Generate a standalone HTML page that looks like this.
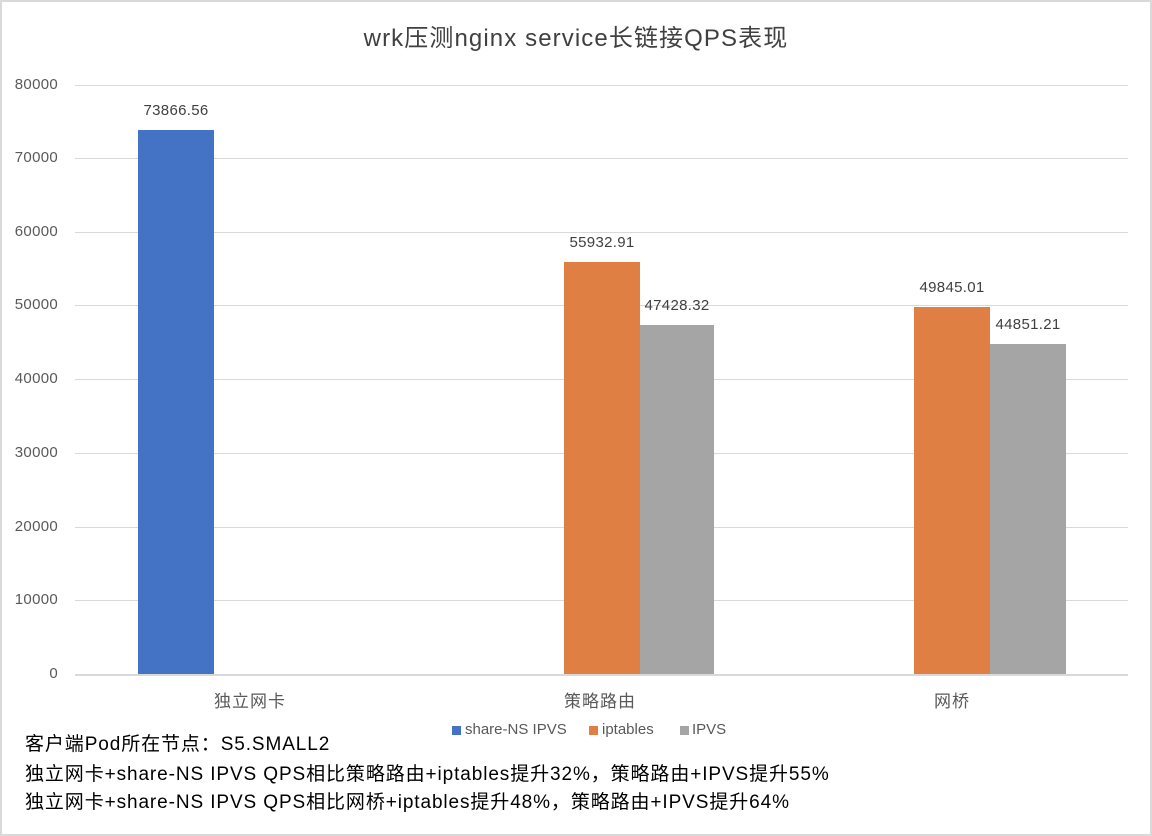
<!DOCTYPE html>
<html><head><meta charset="utf-8"><style>
body{margin:0;background:#fff;}
#c{position:relative;width:1152px;height:836px;overflow:hidden;font-family:"Liberation Sans","Noto Sans CJK SC",sans-serif;background:#fff;}
.b{position:absolute;box-sizing:border-box;}
.t{position:absolute;white-space:nowrap;color:#404040;}
.g{position:absolute;left:75px;width:1053px;height:1px;background:#d9d9d9;}
.yl{position:absolute;width:58px;text-align:right;left:0;font-size:15px;color:#595959;letter-spacing:0.3px;}
.dl{position:absolute;font-size:15px;color:#404040;width:120px;text-align:center;letter-spacing:0.3px;}
.cl{position:absolute;font-size:17px;color:#595959;width:200px;text-align:center;letter-spacing:1px;}
.n{position:absolute;left:25px;font-size:19px;color:#000;white-space:nowrap;letter-spacing:0.9px;}
</style></head><body><div id="c">
<div class="b" style="left:0;top:0;width:1152px;height:836px;border:2px solid #d9d9d9;"></div>
<div class="t" style="left:0;width:1152px;text-align:center;top:18px;font-size:24px;color:#404040;letter-spacing:1.1px;">wrk压测nginx service长链接QPS表现</div>

<div class="g" style="top:85px"></div>
<div class="g" style="top:158px"></div>
<div class="g" style="top:232px"></div>
<div class="g" style="top:305px"></div>
<div class="g" style="top:379px"></div>
<div class="g" style="top:453px"></div>
<div class="g" style="top:527px"></div>
<div class="g" style="top:600px"></div>
<div class="g" style="top:674px;height:2px"></div>

<div class="yl" style="top:76px">80000</div>
<div class="yl" style="top:149px">70000</div>
<div class="yl" style="top:223px">60000</div>
<div class="yl" style="top:296px">50000</div>
<div class="yl" style="top:370px">40000</div>
<div class="yl" style="top:444px">30000</div>
<div class="yl" style="top:518px">20000</div>
<div class="yl" style="top:591px">10000</div>
<div class="yl" style="top:665px">0</div>

<div class="b" style="left:138px;top:130px;width:76px;height:544px;background:#4472c4"></div>
<div class="b" style="left:564px;top:262px;width:76px;height:412px;background:#e07f43"></div>
<div class="b" style="left:640px;top:325px;width:74px;height:349px;background:#a5a5a5"></div>
<div class="b" style="left:914px;top:307px;width:76px;height:367px;background:#e07f43"></div>
<div class="b" style="left:990px;top:344px;width:76px;height:330px;background:#a5a5a5"></div>

<div class="dl" style="left:116px;top:102px">73866.56</div>
<div class="dl" style="left:542px;top:234px">55932.91</div>
<div class="dl" style="left:617px;top:297px">47428.32</div>
<div class="dl" style="left:892px;top:279px">49845.01</div>
<div class="dl" style="left:968px;top:316px">44851.21</div>

<div class="cl" style="left:150px;top:687px">独立网卡</div>
<div class="cl" style="left:500px;top:687px">策略路由</div>
<div class="cl" style="left:852px;top:687px">网桥</div>

<div class="b" style="left:452px;top:726px;width:9px;height:9px;background:#4472c4"></div>
<div class="t" style="left:465px;top:721px;font-size:15px;color:#595959">share-NS IPVS</div>
<div class="b" style="left:589px;top:726px;width:9px;height:9px;background:#e07f43"></div>
<div class="t" style="left:602px;top:721px;font-size:15px;color:#595959">iptables</div>
<div class="b" style="left:680px;top:726px;width:9px;height:9px;background:#a5a5a5"></div>
<div class="t" style="left:692px;top:721px;font-size:15px;color:#595959">IPVS</div>

<div class="n" style="top:729px">客户端Pod所在节点：S5.SMALL2</div>
<div class="n" style="top:759px">独立网卡+share-NS IPVS QPS相比策略路由+iptables提升32%，策略路由+IPVS提升55%</div>
<div class="n" style="top:787px">独立网卡+share-NS IPVS QPS相比网桥+iptables提升48%，策略路由+IPVS提升64%</div>
</div></body></html>
